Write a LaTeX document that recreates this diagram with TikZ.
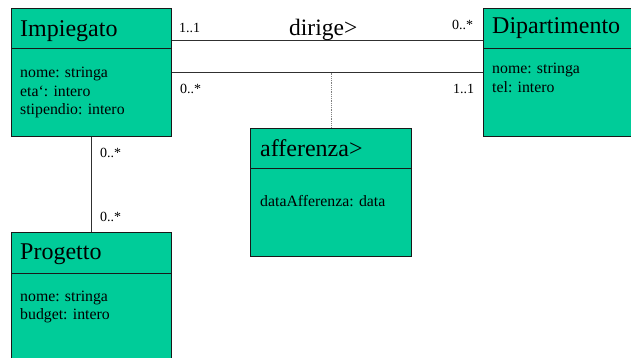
\documentclass[tikz,border=0pt]{standalone}
\usepackage{fontspec}
\setmainfont{Liberation Serif}
\definecolor{umlfill}{RGB}{0,204,153}
\definecolor{umlline}{RGB}{25,25,25}
\begin{document}
\begin{tikzpicture}[x=1pt,y=-1pt,
  classbox/.style={draw=umlline, fill=umlfill, line width=1.1pt, inner sep=0pt, anchor=north west},
  divider/.style={draw=umlline, line width=1pt},
  titletext/.style={font=\fontsize{24}{28}\selectfont, inner sep=0pt, anchor=base west},
  attrtext/.style={font=\fontsize{15.8}{18.6}\selectfont, inner sep=0pt, anchor=base west, align=left},
  multtext/.style={font=\fontsize{14}{16}\selectfont, inner sep=0pt, anchor=base west},
  assoc/.style={draw=umlline!90, line width=0.9pt},
  linkdot/.style={draw=black!50, line width=0.8pt, densely dotted}]
\clip (0,0) rectangle (631,357);
\fill[white] (0,0) rectangle (631,357);

% Class boxes
\node[classbox, minimum width=160pt, minimum height=128pt] (imp) at (11,8) {};
\node[classbox, minimum width=160pt, minimum height=128pt] (dip) at (483,8) {};
\node[classbox, minimum width=161pt, minimum height=128pt] (aff) at (250,128) {};
\node[classbox, minimum width=160pt, minimum height=140pt] (prog) at (11,232) {};

% Header dividers
\draw[divider] (11,48) -- (171,48);
\draw[divider] (483,48) -- (640,48);
\draw[divider] (250,168) -- (411,168);
\draw[divider] (11,273) -- (171,273);

% Titles
\node[titletext] (impT) at (20,36) {Impiegato};
\node[titletext] (dipT) at (492,33) {Dipartimento};
\node[titletext] (affT) at (260,156) {afferenza>};
\node[titletext] (progT) at (20,259) {Progetto};

% Attributes
\node[attrtext] (impA1) at (20,77) {nome: stringa};
\node[attrtext] (impA2) at (20,96) {eta\symbol{96}: intero};
\node[attrtext] (impA3) at (20,114) {stipendio: intero};
\node[attrtext] (dipA1) at (492,73) {nome: stringa};
\node[attrtext] (dipA2) at (492,92) {tel: intero};
\node[attrtext] (affA1) at (260,206) {dataAfferenza: data};
\node[attrtext] (progA1) at (20,301) {nome: stringa};
\node[attrtext] (progA2) at (20,319) {budget: intero};

% Associations
\coordinate (dirL) at (imp.north east |- 0,40.5);
\coordinate (dirR) at (dip.north west |- 0,40.5);
\draw[assoc] (dirL) -- (dirR);
\draw[assoc] (imp.east) -- (dip.west);
\coordinate (affMid) at (aff.north |- imp.east);
\draw[linkdot] (affMid) -- (aff.north);
\draw[assoc] (imp.south) -- (prog.north);

% Labels
\node[titletext, font=\fontsize{23.5}{28}\selectfont] (dirige) at (289,35) {dirige>};
\node[multtext] (m1) at (179,32) {1..1};
\node[multtext] (m2) at (452,29) {0..*};
\node[multtext] (m3) at (180,93) {0..*};
\node[multtext] (m4) at (453,93) {1..1};
\node[multtext] (m5) at (100,157) {0..*};
\node[multtext] (m6) at (100,221) {0..*};
\end{tikzpicture}
\end{document}
